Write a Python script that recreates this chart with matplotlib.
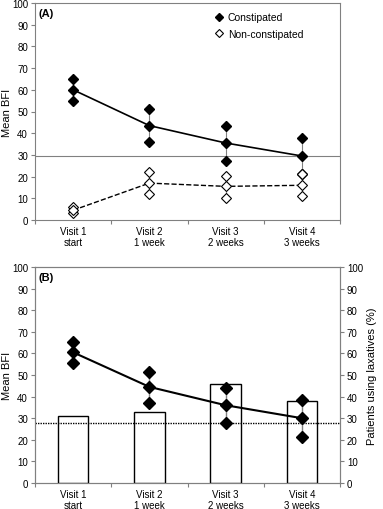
import numpy as np
import matplotlib.pyplot as plt

visits = ['Visit 1\nstart', 'Visit 2\n1 week', 'Visit 3\n2 weeks', 'Visit 4\n3 weeks']

# panel A
con_mean = [60, 43.5, 35.5, 29.5]
con_hi = [65, 51, 43.5, 38]
con_lo = [55, 36, 27, 21]
non_mean = [4.5, 17, 15.5, 16]
non_hi = [6, 22, 20.5, 21]
non_lo = [3, 12, 10, 11]
ref_a = 29.5

# panel B
b_mean = [60.5, 44.5, 36, 30]
b_hi = [65.5, 51.5, 44, 38.5]
b_lo = [55.5, 37, 28, 21.5]
laxatives = [31, 33, 46, 38]
ref_b = 28

plt.rcParams['font.family'] = 'Liberation Sans'
plt.rcParams['font.size'] = 7

fig = plt.figure(figsize=(3.83, 5.10), dpi=100)
axA = fig.add_axes([35/383, 1-221/510, 305/383, 217/510])
axB = fig.add_axes([35/383, 1-484/510, 305/383, 216/510])

x = np.arange(4) + 0.5


def style(ax):
    ax.set_xlim(0, 4)
    ax.set_ylim(0, 100)
    ax.set_yticks(range(0, 101, 10))
    ax.set_xticks(range(5))
    ax.set_xticklabels([])
    ax.set_xticks(x, minor=True)
    ax.set_xticklabels(visits, minor=True)
    ax.tick_params(axis='x', which='minor', length=0, pad=4)
    ax.tick_params(axis='x', which='major', length=3, color='gray')
    ax.tick_params(axis='y', length=3, color='gray', pad=2)
    for s in ax.spines.values():
        s.set_color('gray')
    ax.set_ylabel('Mean BFI', fontsize=8, labelpad=0)


# ---- (A)
style(axA)
axA.axhline(ref_a, color='gray', lw=0.8)
for i in range(4):
    axA.plot([x[i], x[i]], [con_lo[i], con_hi[i]], color='gray', lw=0.8)
    axA.plot([x[i], x[i]], [non_lo[i], non_hi[i]], color='gray', lw=0.8)
axA.plot(x, con_mean, color='black', lw=1.2)
axA.plot(x, non_mean, color='black', lw=1.0, ls='--')
axA.plot(x, con_hi, 'D', color='black', ms=5, ls='none')
axA.plot(x, con_lo, 'D', color='black', ms=5, ls='none')
axA.plot(x, con_mean, 'D', color='black', ms=5, ls='none', label='Constipated')
for arr in (non_hi, non_lo):
    axA.plot(x, arr, 'D', mfc='white', mec='black', mew=0.8, ms=5, ls='none')
axA.plot(x, non_mean, 'D', mfc='white', mec='black', mew=0.8, ms=5, ls='none',
         label='Non-constipated')
axA.text(0.04, 94, '(A)', fontsize=8, fontweight='bold')
axA.legend(loc='upper right', bbox_to_anchor=(0.91, 1.0), frameon=False,
           fontsize=7.5, handlelength=0.6, handletextpad=0.5, labelspacing=0.6,
           markerscale=0.75)

# ---- (B)
style(axB)
axB2 = axB.twinx()
axB2.set_ylim(0, 100)
axB2.set_yticks(range(0, 101, 10))
axB2.tick_params(axis='y', length=3, color='gray', pad=2)
axB2.set_ylabel('Patients using laxatives (%)', fontsize=8, labelpad=3)
for s in axB2.spines.values():
    s.set_color('gray')
axB2.bar(x, laxatives, width=0.4, color='white', edgecolor='black', lw=1.0, zorder=1)
axB2.axhline(ref_b, color='black', lw=1.0, ls=(0, (1, 0.8)), zorder=2)
for i in range(4):
    axB2.plot([x[i], x[i]], [b_lo[i], b_hi[i]], color='gray', lw=1.0, zorder=3)
axB2.plot(x, b_mean, color='black', lw=1.5, zorder=4)
for arr in (b_hi, b_mean, b_lo):
    axB2.plot(x, arr, 'D', color='black', ms=6.5, ls='none', zorder=5)
axB2.text(0.04, 94, '(B)', fontsize=8, fontweight='bold')

fig.savefig('out.png', dpi=100)
